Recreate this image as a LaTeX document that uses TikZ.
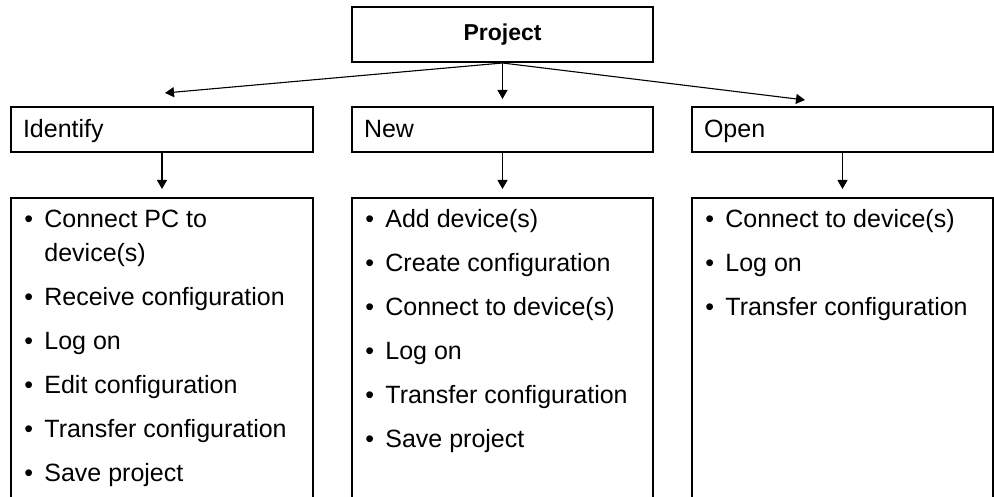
\documentclass[tikz,border=0pt]{standalone}
\usepackage{fontspec}
\setmainfont{Liberation Sans}
\usetikzlibrary{arrows.meta}
\tikzset{
  head/.style={draw, line width=1pt, inner ysep=0pt, inner xsep=6pt,
    minimum height=22.5pt, text width=139pt, align=left,
    text height=8.5pt, text depth=0pt, font=\fontsize{12.5}{15}\selectfont},
  listbox/.style={draw, line width=1pt, inner sep=0pt,
    minimum width=151pt, minimum height=166pt},
  items/.style={inner sep=0pt, anchor=north west, font=\fontsize{12.5}{17}\selectfont},
  arr/.style={-{Triangle[length=4.5pt,width=5pt]}, line width=0.55pt}
}
\newcommand{\itm}{\textbullet}
\begin{document}
\begin{tikzpicture}
    [x=0.5pt, y=-0.5pt]
    \clip (0,0) rectangle (994,497);
    % top box
    \node[draw, line width=1pt, minimum width=150.5pt, minimum height=27.5pt, inner sep=0pt,
      font=\fontsize{11.5}{13}\selectfont\bfseries] (project) at (502.5,34.5) {Project};
    % second row
    \node[head] (identify) at (162,129.5) {Identify};
    \node[head, text width=138.5pt] (new) at (502.5,129.5) {New};
    \node[head, text width=138.5pt] (open) at (842.5,129.5) {Open};
    % lists
    \node[listbox] (identifyList) at (162,364) {};
    \node[listbox, minimum width=150.5pt] (newList) at (502.5,364) {};
    \node[listbox, minimum width=150.5pt] (openList) at (842.5,364) {};

    \node[items] (identifyItems) at ([xshift=7pt,yshift=-3.1pt]identifyList.north west) {%
      \begin{tabular}[t]{@{}p{10pt}@{}l@{}}
        \itm & Connect PC to\\
             & device(s)\\[5pt]
        \itm & Receive configuration\\[5pt]
        \itm & Log on\\[5pt]
        \itm & Edit configuration\\[5pt]
        \itm & Transfer configuration\\[5pt]
        \itm & Save project
      \end{tabular}};
    \node[items] (newItems) at ([xshift=7pt,yshift=-3.1pt]newList.north west) {%
      \begin{tabular}[t]{@{}p{10pt}@{}l@{}}
        \itm & Add device(s)\\[5pt]
        \itm & Create configuration\\[5pt]
        \itm & Connect to device(s)\\[5pt]
        \itm & Log on\\[5pt]
        \itm & Transfer configuration\\[5pt]
        \itm & Save project
      \end{tabular}};
    \node[items] (openItems) at ([xshift=7pt,yshift=-3.1pt]openList.north west) {%
      \begin{tabular}[t]{@{}p{10pt}@{}l@{}}
        \itm & Connect to device(s)\\[5pt]
        \itm & Log on\\[5pt]
        \itm & Transfer configuration
      \end{tabular}};

    % arrows
    \coordinate (idTip) at (165,93);
    \coordinate (openTip) at (805,100);
    \draw[arr] (project.south) -- (idTip);
    \draw[arr, shorten >=3.5pt] (project.south) -- (new.north);
    \draw[arr] (project.south) -- (openTip);
    \draw[arr, shorten >=4pt] (identify.south) -- (identifyList.north);
    \draw[arr, shorten >=4pt] (new.south) -- (newList.north);
    \draw[arr, shorten >=4pt] (open.south) -- (openList.north);
  \end{tikzpicture}
\end{document}
